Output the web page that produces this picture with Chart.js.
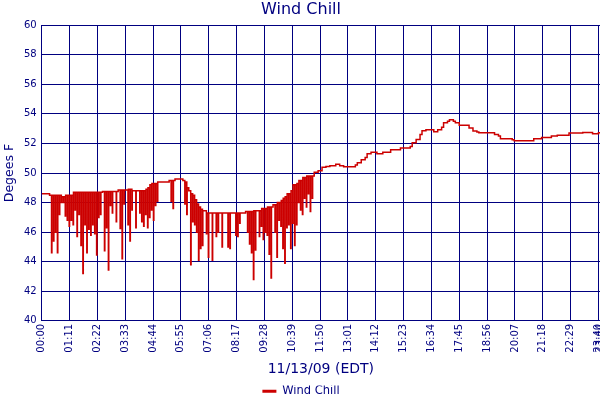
<!DOCTYPE html>
<html>
<head>
<meta charset="utf-8">
<script src="https://cdn.jsdelivr.net/npm/chart.js@4/dist/chart.umd.min.js"></script>
<style>
  html, body { margin: 0; padding: 0; background: #fff; }
</style>
</head>
<body>
<canvas id="chill" width="600" height="400"></canvas>
<script>
// Gusty part of the day: [minute after midnight, wind chill °F]
// a gust reading is followed a minute later by the steady value again
const gustyReadings = [
  [0, 48.6], [5, 48.6], [10, 48.6], [15, 48.6], [20, 48.5],
  [25, 44.6], [26, 48.5], [30, 45.4], [31, 48.5], [35, 46.0], [36, 48.5],
  [40, 44.6], [41, 48.5], [45, 47.2], [46, 48.5], [50, 48.0], [51, 48.4],
  [55, 48.0], [56, 48.4], [60, 47.1], [61, 48.5], [65, 46.8], [66, 48.5],
  [70, 46.4], [71, 48.5], [75, 46.8], [76, 48.5], [80, 46.5], [81, 48.7],
  [85, 47.5], [86, 48.7], [90, 45.7], [91, 48.7], [95, 47.2], [96, 48.7],
  [100, 45.1], [101, 48.7], [105, 43.2], [106, 48.7], [110, 46.5], [111, 48.7],
  [115, 44.6], [116, 48.7], [120, 46.2], [121, 48.7], [125, 45.8], [126, 48.7],
  [130, 46.5], [131, 48.7], [135, 45.9], [136, 48.7], [140, 44.45], [141, 48.7],
  [145, 47.0], [146, 48.7], [150, 47.2], [151, 48.7], [155, 48.75],
  [160, 44.75], [161, 48.75], [165, 46.3], [166, 48.75], [170, 43.45], [171, 48.75],
  [175, 47.8], [176, 48.75], [180, 47.3], [181, 48.75], [185, 48.75],
  [190, 46.7], [191, 48.75], [195, 48.85], [200, 46.25], [201, 48.85],
  [205, 44.2], [206, 48.85], [210, 47.9], [211, 48.85], [215, 48.85],
  [220, 46.5], [221, 48.9], [225, 45.4], [226, 48.9], [230, 47.5], [231, 48.8],
  [235, 48.8], [240, 46.3], [241, 48.8], [245, 48.8], [250, 47.3], [251, 48.8],
  [255, 46.7], [256, 48.8], [260, 46.4], [261, 48.8], [265, 47.2], [266, 48.9],
  [270, 46.3], [271, 49.0], [275, 47.0], [276, 49.2], [280, 47.5], [281, 49.3],
  [285, 46.8], [286, 49.3], [290, 47.8], [291, 49.3], [295, 48.1], [296, 49.4],
  [300, 49.4], [305, 49.4], [310, 49.4], [315, 49.4], [320, 49.4], [325, 49.5],
  [330, 48.1], [331, 49.5], [335, 47.6], [336, 49.5], [340, 49.6], [345, 49.6],
  [350, 49.6], [355, 49.6], [360, 49.5], [365, 47.9], [366, 49.4],
  [370, 47.2], [371, 49.0], [375, 48.8], [380, 43.8], [381, 48.6],
  [385, 46.7], [386, 48.5], [390, 46.5], [391, 48.2], [395, 46.0], [396, 47.9],
  [400, 44.1], [401, 47.7], [405, 44.9], [406, 47.55], [410, 45.1], [411, 47.45],
  [415, 47.45], [420, 45.9], [421, 47.3], [425, 44.3], [426, 47.3], [430, 47.3],
  [435, 44.1], [436, 47.3], [440, 47.3], [445, 45.7], [446, 47.3],
  [450, 46.0], [451, 47.3], [455, 47.3], [460, 45.0], [461, 47.3],
  [465, 47.3], [470, 47.3], [475, 45.0], [476, 47.3],
  [480, 44.9], [481, 47.3], [485, 47.3], [490, 47.3], [495, 45.8], [496, 47.3],
  [500, 45.7], [501, 47.3], [505, 46.6], [506, 47.3], [510, 47.3], [515, 47.3],
  [520, 47.4], [525, 46.0], [526, 47.4], [530, 45.2], [531, 47.4],
  [535, 44.6], [536, 47.4], [540, 42.8], [541, 47.45], [545, 44.8], [546, 47.45],
  [550, 47.45], [555, 45.7], [556, 47.45], [560, 46.4], [561, 47.6],
  [565, 45.5], [566, 47.6], [570, 46.0], [571, 47.6], [575, 45.8], [576, 47.7],
  [580, 44.5], [581, 47.7], [585, 42.9], [586, 47.7], [590, 47.85],
  [595, 46.0], [596, 47.85], [600, 44.3], [601, 48.0], [605, 46.8], [606, 48.0],
  [610, 46.4], [611, 48.15], [615, 44.9], [616, 48.3], [620, 43.9], [621, 48.4],
  [625, 46.3], [626, 48.6], [630, 46.5], [631, 48.6], [635, 44.9], [636, 48.8],
  [640, 46.6], [641, 49.2], [645, 45.1], [646, 49.2], [650, 46.5], [651, 49.3],
  [655, 48.0], [656, 49.5], [660, 47.5], [661, 49.5], [665, 47.2], [666, 49.7],
  [670, 48.3], [671, 49.7], [675, 47.7], [676, 49.8], [680, 48.6], [681, 49.8],
  [685, 47.4], [686, 49.8], [690, 48.3], [691, 49.8], [695, 50.05], [700, 50.05]
];

// Calm part of the day: one reading every 5 minutes from 11:45
const CALM_START = 705;
const CALM_STEP = 5;
const calmChill = [
  50.15, 50.15, 50.4, 50.4, 50.44, 50.44, 50.5, 50.5, 50.5, 50.6,
  50.6, 50.5, 50.5, 50.42, 50.42, 50.42, 50.42, 50.42, 50.42, 50.55,
  50.7, 50.7, 50.9, 50.9, 51.05, 51.3, 51.3, 51.41, 51.41, 51.41,
  51.3, 51.3, 51.3, 51.41, 51.41, 51.41, 51.41, 51.57, 51.57, 51.57,
  51.57, 51.57, 51.69, 51.69, 51.69, 51.69, 51.69, 51.8, 52.05, 52.05,
  52.27, 52.27, 52.6, 52.86, 52.86, 52.93, 52.93, 52.93, 52.93, 52.8,
  52.8, 52.93, 52.93, 53.1, 53.4, 53.4, 53.5, 53.6, 53.6, 53.5,
  53.4, 53.4, 53.24, 53.24, 53.24, 53.24, 53.24, 53.05, 53.05, 52.85,
  52.85, 52.78, 52.73, 52.73, 52.73, 52.73, 52.73, 52.73, 52.73, 52.73,
  52.6, 52.6, 52.5, 52.32, 52.32, 52.32, 52.32, 52.32, 52.32, 52.25,
  52.18, 52.18, 52.18, 52.18, 52.18, 52.18, 52.18, 52.18, 52.18, 52.18,
  52.32, 52.32, 52.32, 52.32, 52.4, 52.4, 52.4, 52.4, 52.4, 52.5,
  52.5, 52.5, 52.56, 52.56, 52.56, 52.56, 52.56, 52.56, 52.7, 52.7,
  52.7, 52.7, 52.7, 52.7, 52.7, 52.75, 52.75, 52.75, 52.75, 52.75,
  52.65, 52.65, 52.65, 52.72, 52.72
];

const tickLabels = [
  '00:00', '01:11', '02:22', '03:33', '04:44', '05:55', '07:06', '08:17',
  '09:28', '10:39', '11:50', '13:01', '14:12', '15:23', '16:34', '17:45',
  '18:56', '20:07', '21:18', '22:29', '23:40', '23:44'
];
const yTicks = [40, 42, 44, 46, 48, 50, 52, 54, 56, 58, 60];

const NAVY = '#000080';
const RED = '#CC0000';
const FONT = 'DejaVu Sans';

const toMinutes = s => { const [h, m] = s.split(':').map(Number); return h * 60 + m; };
const tickMinutes = tickLabels.map(toMinutes);
const dayEnd = tickMinutes[tickMinutes.length - 1];

const points = gustyReadings.map(([t, v]) => ({ x: t, y: v }))
  .concat(calmChill.map((v, i) => ({ x: CALM_START + i * CALM_STEP, y: v })));

new Chart(document.getElementById('chill'), {
  type: 'line',
  data: {
    datasets: [{
      label: 'Wind Chill',
      data: points,
      borderColor: RED,
      backgroundColor: RED,
      borderWidth: 1.5,
      pointRadius: 0,
      stepped: true,
      fill: false,
    }],
  },
  options: {
    responsive: false,
    animation: false,
    layout: { padding: { left: 2, right: 0, top: 0, bottom: -7 } },
    plugins: {
      title: {
        display: true, text: 'Wind Chill', color: NAVY,
        font: { family: FONT, size: 16, weight: 'normal' },
        padding: { top: 0, bottom: 6 },
      },
      legend: {
        position: 'bottom',
        labels: {
          color: NAVY,
          font: { family: FONT, size: 11.5 },
          usePointStyle: true,
          pointStyle: 'line',
          pointStyleWidth: 14,
          boxHeight: 10,
          padding: 0,
          generateLabels: chart => {
            const items = Chart.defaults.plugins.legend.labels.generateLabels(chart);
            items.forEach(it => { it.lineWidth = 3; it.strokeStyle = RED; });
            return items;
          },
        },
      },
      tooltip: { enabled: false },
    },
    scales: {
      x: {
        type: 'linear',
        min: 0,
        max: dayEnd,
        afterBuildTicks: axis => { axis.ticks = tickMinutes.map(v => ({ value: v })); },
        afterFit: axis => { axis.paddingRight = 0; },
        ticks: {
          autoSkip: false, maxRotation: 90, minRotation: 90,
          color: NAVY, font: { family: FONT, size: 10 }, padding: 3,
          callback: (v, i) => tickLabels[i],
        },
        grid: { color: NAVY, drawTicks: false },
        border: { color: NAVY },
        title: {
          display: true, text: '11/13/09 (EDT)', color: NAVY,
          font: { family: FONT, size: 14 }, padding: { top: 5, bottom: 8 },
        },
      },
      y: {
        min: yTicks[0],
        max: yTicks[yTicks.length - 1],
        afterBuildTicks: axis => { axis.ticks = yTicks.map(v => ({ value: v })); },
        ticks: { color: NAVY, font: { family: FONT, size: 10 }, padding: 5 },
        grid: { color: NAVY, drawTicks: false },
        border: { color: NAVY },
        title: {
          display: true, text: 'Degees F', color: NAVY,
          font: { family: FONT, size: 12.5 }, padding: { top: 0, bottom: 2 },
        },
      },
    },
  },
});
</script>
</body>
</html>
